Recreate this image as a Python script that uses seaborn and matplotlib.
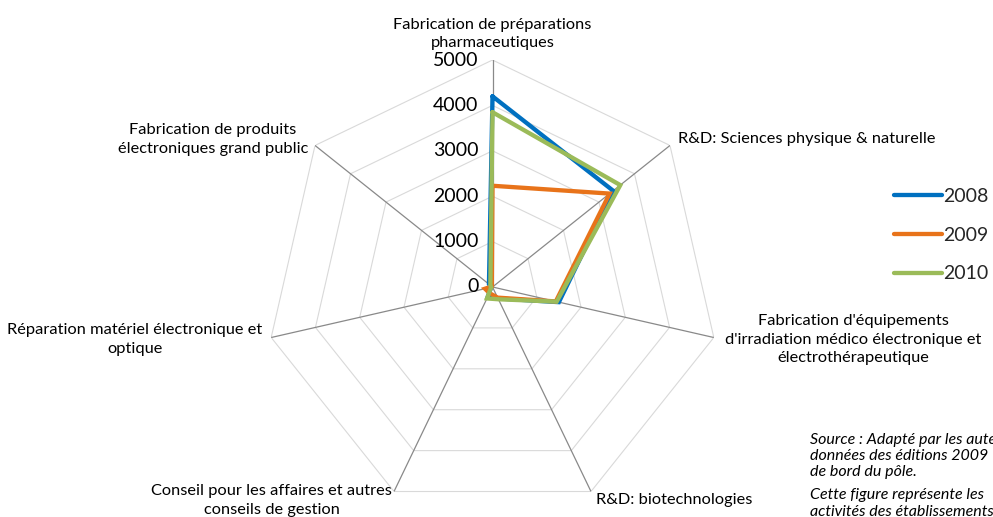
import numpy as np
import pandas as pd
import matplotlib
matplotlib.use("Agg")
import matplotlib.pyplot as plt
import seaborn as sns

# Sectors, clockwise from the top spoke
categories = [
    "Fabrication de préparations\npharmaceutiques",
    "R&D: Sciences physique & naturelle",
    "Fabrication d'équipements\nd'irradiation médico électronique et\nélectrothérapeutique",
    "R&D: biotechnologies",
    "Conseil pour les affaires et autres\nconseils de gestion",
    "Réparation matériel électronique et\noptique",
    "Fabrication de produits\nélectroniques grand public",
]
years = ["2008", "2009", "2010"]
values_2008 = [4200, 3400, 1500, 280, 250, 30, 100]
values_2009 = [2230, 3300, 1430, 260, 150, 170, 20]
values_2010 = [3850, 3600, 1450, 300, 280, 30, 60]
radial_ticks = [0, 1000, 2000, 3000, 4000, 5000]
colors = ["#0070C0", "#E8731A", "#9BBB59"]
source_lines = [
    "Source : Adapté par les auteurs",
    "données des éditions 2009",
    "de bord du pôle.",
    "Cette figure représente les",
    "activités des établissements",
]

sns.set_theme(style="white")
plt.rcParams["font.family"] = ["Lato", "DejaVu Sans"]
plt.rcParams["lines.solid_joinstyle"] = "miter"

n = len(categories)
theta = np.linspace(0, 2 * np.pi, n, endpoint=False)
theta_closed = np.append(theta, 2 * np.pi)

rows = []
for year, vals in zip(years, [values_2008, values_2009, values_2010]):
    closed = list(vals) + [vals[0]]
    for t, v in zip(theta_closed, closed):
        rows.append({"theta": t, "value": v, "year": year})
df = pd.DataFrame(rows)

W, H = 993, 517
fig = plt.figure(figsize=(W / 100, H / 100), dpi=100)
cx, cy, R = 492.5, 287.0, 227.0
ax = fig.add_axes([(cx - R) / W, (H - cy - R) / H, 2 * R / W, 2 * R / H],
                  projection="polar")
ax.set_theta_zero_location("N")
ax.set_theta_direction(-1)
ax.grid(False)
ax.spines["polar"].set_visible(False)

# Polygonal grid rings and spokes
for r in radial_ticks[1:]:
    ax.plot(theta_closed, [r] * (n + 1), color="#D9D9D9", lw=0.8, zorder=1)
for t in theta:
    ax.plot([t, t], [0, radial_ticks[-1]], color="#898989", lw=0.9, zorder=1.5)

sns.lineplot(data=df, x="theta", y="value", hue="year", palette=colors,
             sort=False, estimator=None, linewidth=3.1, ax=ax, zorder=3)

ax.set_ylim(0, radial_ticks[-1])
ax.set_xticks([])
ax.set_yticks([])
ax.set_xlabel("")
ax.set_ylabel("")

# Radial value labels next to the top spoke
for r in radial_ticks:
    ax.annotate(f"{r}", xy=(0, r), xytext=(-14, 0), textcoords="offset pixels",
                ha="right", va="center", fontsize=14, color="#000000",
                annotation_clip=False)

# Sector labels around the outer ring
label_pos = [
    dict(xytext=(0, 10), ha="center", va="bottom"),
    dict(xytext=(8, 6), ha="left", va="center"),
    dict(xytext=(11, -2), ha="left", va="center"),
    dict(xytext=(5, -1), ha="left", va="top"),
    dict(xytext=(-2, -9), ha="right", va="center"),
    dict(xytext=(-9, -2), ha="right", va="center"),
    dict(xytext=(-7, 6), ha="right", va="center"),
]
for t, lab, pos in zip(theta, categories, label_pos):
    ax.annotate(lab, xy=(t, radial_ticks[-1]), textcoords="offset pixels",
                multialignment="center", fontsize=11.8, color="#000000",
                annotation_clip=False, linespacing=1.38, **pos)

handles, labels = ax.get_legend_handles_labels()
leg = ax.legend(handles, labels, loc="center left",
                bbox_to_anchor=(894 / W, 1 - 235 / H), bbox_transform=fig.transFigure,
                frameon=False, fontsize=14, handlelength=2.45, handletextpad=0.1,
                labelspacing=1.13, borderpad=0, borderaxespad=0)
for line in leg.get_lines():
    line.set_linewidth(3.1)

# Source note, partly running past the right edge
for txt, y in zip(source_lines, [440, 456, 472, 495, 512]):
    fig.text(810 / W, 1 - y / H, txt, ha="left", va="center",
             fontsize=11.5, fontstyle="italic", color="#000000")

fig.savefig("out.png", dpi=100)
